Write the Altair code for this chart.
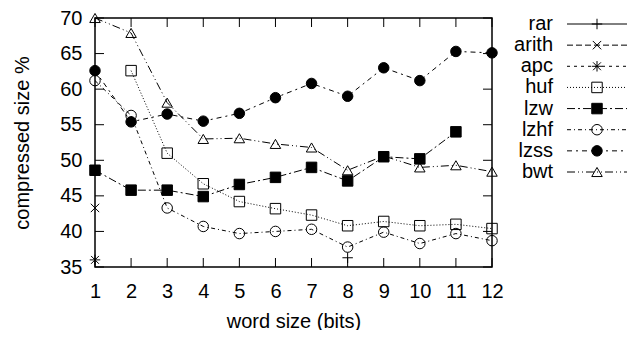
import altair as alt
import pandas as pd

FONT = "Liberation Sans"

series_order = ["rar", "arith", "apc", "huf", "lzw", "lzhf", "lzss", "bwt"]

# values (points below 35 are outside the visible range)
rar_x = [8]
rar_y = [36.3]
arith_x = [1]
arith_y = [43.3]
apc_x = [1]
apc_y = [36.0]
huf_x = [2, 3, 4, 5, 6, 7, 8, 9, 10, 11, 12]
huf_y = [62.6, 51.0, 46.7, 44.2, 43.2, 42.3, 40.8, 41.4, 40.8, 41.0, 40.4]
lzw_x = [1, 2, 3, 4, 5, 6, 7, 8, 9, 10, 11]
lzw_y = [48.6, 45.8, 45.8, 44.9, 46.6, 47.6, 49.0, 47.1, 50.5, 50.2, 54.0]
lzhf_x = [1, 2, 3, 4, 5, 6, 7, 8, 9, 10, 11, 12]
lzhf_y = [61.2, 56.3, 43.3, 40.7, 39.7, 40.0, 40.3, 37.8, 39.9, 38.3, 39.7, 38.7]
lzss_x = [1, 2, 3, 4, 5, 6, 7, 8, 9, 10, 11, 12]
lzss_y = [62.6, 55.4, 56.5, 55.5, 56.6, 58.8, 60.8, 59.0, 63.0, 61.2, 65.3, 65.1]
bwt_x = [1, 2, 3, 4, 5, 6, 7, 8, 9, 10, 11, 12]
bwt_y = [70.0, 67.9, 58.1, 53.0, 53.1, 52.3, 51.8, 48.6, 50.6, 49.0, 49.3, 48.4]

x_ticks = [1, 2, 3, 4, 5, 6, 7, 8, 9, 10, 11, 12]
y_ticks = [35, 40, 45, 50, 55, 60, 65, 70]

# styles
dash_range = [[1, 0], [6, 3], [3, 4], [1, 2], [8, 3, 2, 3], [4, 3, 1, 3], [5, 4, 2, 4], [8, 3, 1, 3, 1, 3]]
shape_range = [
    "M-1,0L1,0M0,-1L0,1",
    "M-0.8,-0.8L0.8,0.8M-0.8,0.8L0.8,-0.8",
    "M-1,0L1,0M0,-1L0,1M-0.75,-0.75L0.75,0.75M-0.75,0.75L0.75,-0.75",
    "square",
    "square",
    "circle",
    "circle",
    "triangle-up",
]
fill_range = ["transparent", "transparent", "transparent", "transparent", "black", "transparent", "black", "transparent"]

rows = []
for name, xs, ys in [
    ("rar", rar_x, rar_y), ("arith", arith_x, arith_y), ("apc", apc_x, apc_y),
    ("huf", huf_x, huf_y), ("lzw", lzw_x, lzw_y), ("lzhf", lzhf_x, lzhf_y),
    ("lzss", lzss_x, lzss_y), ("bwt", bwt_x, bwt_y),
]:
    for xv, yv in zip(xs, ys):
        rows.append({"series": name, "word": xv, "size": yv})
df = pd.DataFrame(rows)

W, H = 397, 249
TICK = 9

xs = alt.Scale(domain=[1, 12], nice=False, zero=False)
ys = alt.Scale(domain=[35, 70], nice=False, zero=False)
dash_s = alt.Scale(domain=series_order, range=dash_range)
shape_s = alt.Scale(domain=series_order, range=shape_range)
fill_s = alt.Scale(domain=series_order, range=fill_range)

x_axis = alt.Axis(
    values=x_ticks, title="word size (bits)", ticks=False, domain=False, grid=False,
    labelPadding=14, titlePadding=10, format="d", labelOverlap=False, labelFlush=False)
y_axis = alt.Axis(
    values=y_ticks, title="compressed size %", ticks=False, domain=False, grid=False,
    labelPadding=13, titlePadding=27, format="d", labelOverlap=False, labelFlush=False)


def X(field):
    return alt.X(field, scale=xs, axis=x_axis, title="word size (bits)")


def Y(field):
    return alt.Y(field, scale=ys, axis=y_axis, title="compressed size %")


lines = alt.Chart(df).mark_line(color="black", strokeWidth=1).encode(
    x=X("word:Q"), y=Y("size:Q"), detail="series:N",
    strokeDash=alt.StrokeDash("series:N", scale=dash_s, legend=None),
    order="word:Q",
)
points = alt.Chart(df).mark_point(color="black", filled=False, strokeWidth=1, size=110, opacity=1).encode(
    x=X("word:Q"), y=Y("size:Q"),
    shape=alt.Shape("series:N", scale=shape_s, legend=None),
    fill=alt.Fill("series:N", scale=fill_s, legend=None),
)

ydf = pd.DataFrame({"v": y_ticks})
xdf = pd.DataFrame({"v": x_ticks})
yt_left = alt.Chart(ydf).mark_rule(color="black", strokeWidth=1).encode(
    y=Y("v:Q"), x=alt.value(0), x2=alt.value(TICK))
yt_right = alt.Chart(ydf).mark_rule(color="black", strokeWidth=1).encode(
    y=Y("v:Q"), x=alt.value(W - TICK), x2=alt.value(W))
xt_bottom = alt.Chart(xdf).mark_rule(color="black", strokeWidth=1).encode(
    x=X("v:Q"), y=alt.value(H - TICK), y2=alt.value(H))
xt_top = alt.Chart(xdf).mark_rule(color="black", strokeWidth=1).encode(
    x=X("v:Q"), y=alt.value(0), y2=alt.value(TICK))

main = alt.layer(lines, yt_left, yt_right, xt_bottom, xt_top, points)

# legend on the right
ldf = pd.DataFrame({"series": series_order})
LY = alt.Y("series:N", scale=alt.Scale(type="point", domain=series_order, range=[6, 154], padding=0), axis=None)
leg_lines = alt.Chart(ldf).mark_rule(color="black", strokeWidth=1).encode(
    y=LY, x=alt.value(472), x2=alt.value(532),
    strokeDash=alt.StrokeDash("series:N", scale=dash_s, legend=None))
leg_points = alt.Chart(ldf).mark_point(color="black", filled=False, strokeWidth=1, size=110, opacity=1).encode(
    y=LY, x=alt.value(502),
    shape=alt.Shape("series:N", scale=shape_s, legend=None),
    fill=alt.Fill("series:N", scale=fill_s, legend=None))
leg_text = alt.Chart(ldf).mark_text(align="right", baseline="middle", fontSize=20, font=FONT, color="black").encode(
    y=LY, x=alt.value(458), text="series:N")
legend = alt.layer(leg_lines, leg_points, leg_text)

chart = alt.layer(main, legend).resolve_scale(y="independent").properties(
    width=W, height=H,
    autosize=alt.AutoSizeParams(type="none"),
    padding={"left": 87, "top": 10, "right": 143, "bottom": 63},
).configure_view(
    stroke="black", strokeWidth=1.5
).configure_axis(
    labelFont=FONT, labelFontSize=20, labelColor="black",
    titleFont=FONT, titleFontSize=20, titleColor="black", titleFontWeight="normal",
    labelOverlap=False, labelFlush=False,
)

chart.save("out.html", embed_options={"renderer": "svg", "actions": False})
